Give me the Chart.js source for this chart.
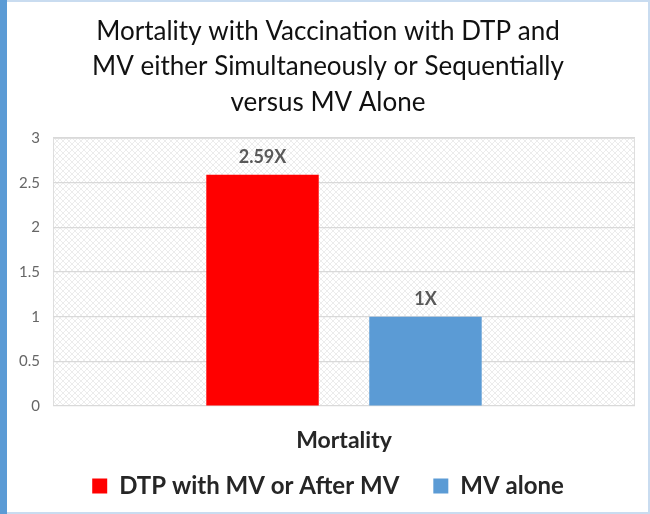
<!DOCTYPE html>
<html>
<head>
<meta charset="utf-8">
<script src="https://cdn.jsdelivr.net/npm/chart.js@4.4.0/dist/chart.umd.min.js"></script>
<style>
  html, body { margin: 0; padding: 0; background: #fff; }
  #wrap { width: 650px; height: 514px; }
</style>
</head>
<body>
<div id="wrap"><canvas id="mortality" width="650" height="514"></canvas></div>
<script>
// chart data
const categories = ['Mortality'];
const seriesNames = ['DTP with MV or After MV', 'MV alone'];
const dtpValues = [2.59];
const mvAloneValues = [1];
const yTicks = [0, 0.5, 1, 1.5, 2, 2.5, 3];

// light crosshatch used behind the bars
function makeHatch() {
    let c = document.createElement('canvas');
    c.width = 6;
    c.height = 6;
    let g = c.getContext('2d');
    g.fillStyle = '#ffffff';
    g.fillRect(0, 0, 6, 6);
    g.strokeStyle = 'rgba(200, 200, 200, 0.5)';
    g.lineWidth = 0.7;
    g.beginPath();
    g.moveTo(0, 0); g.lineTo(6, 6);
    g.moveTo(6, 0); g.lineTo(0, 6);
    g.stroke();
    return g.createPattern(c, 'repeat');
}

// frame of the slide and the hatched plot area
const backdrop = {
    id: 'backdrop',
    beforeDraw(chart) {
        let ctx = chart.ctx;
        let a = chart.chartArea;
        ctx.save();
        ctx.fillStyle = '#ffffff';
        ctx.fillRect(0, 0, chart.width, chart.height);
        ctx.strokeStyle = '#c9dcf0';
        ctx.lineWidth = 2;
        ctx.strokeRect(1, 1, chart.width - 2, chart.height - 2);
        ctx.fillStyle = '#5b9bd5';
        ctx.fillRect(0, 0, 7, chart.height);
        ctx.fillStyle = makeHatch();
        ctx.fillRect(a.left, a.top, a.right - a.left, a.bottom - a.top);
        ctx.strokeStyle = '#dedede';
        ctx.lineWidth = 1;
        ctx.strokeRect(a.left + 0.5, a.top + 0.5, a.right - a.left - 1, a.bottom - a.top - 1);
        ctx.restore();
    }
};

// value labels above the bars
const valueLabels = {
    id: 'valueLabels',
    afterDatasetsDraw(chart) {
        let ctx = chart.ctx;
        ctx.save();
        ctx.font = 'bold 18px Lato';
        ctx.fillStyle = '#595959';
        ctx.textAlign = 'center';
        ctx.textBaseline = 'middle';
        chart.data.datasets.forEach((ds, i) => {
            chart.getDatasetMeta(i).data.forEach((bar, j) => {
                ctx.fillText(ds.data[j] + 'X', bar.x, bar.y - 18);
            });
        });
        ctx.restore();
    }
};

let cntx = document.getElementById('mortality').getContext('2d');

let chart = new Chart(cntx, {
    type: 'bar',
    data: {
        labels: categories,
        datasets: [{
            label: seriesNames[0],
            backgroundColor: '#ff0000',
            data: dtpValues
        }, {
            label: seriesNames[1],
            backgroundColor: '#5b9bd5',
            data: mvAloneValues
        }]
    },
    options: {
        responsive: false,
        animation: false,
        categoryPercentage: 0.56,
        barPercentage: 0.69,
        layout: { padding: { top: 14, left: 14, right: 8, bottom: 6 } },
        plugins: {
            title: {
                display: true,
                text: [
                    'Mortality with Vaccination with DTP and',
                    'MV either Simultaneously or Sequentially',
                    'versus MV Alone'
                ],
                color: '#111111',
                font: { family: 'Lato', size: 26, weight: 'normal', lineHeight: 1.36 },
                padding: { top: 0, bottom: 18 }
            },
            legend: {
                position: 'bottom',
                labels: {
                    color: '#262626',
                    font: { family: 'Lato', size: 24, weight: 'bold' },
                    boxWidth: 15,
                    boxHeight: 15,
                    padding: 34
                }
            },
            tooltip: { enabled: false }
        },
        scales: {
            x: {
                grid: { display: false, drawTicks: false },
                border: { display: false },
                ticks: { display: false },
                // the single category name sits under the bars
                title: {
                    display: true,
                    text: categories[0],
                    color: '#262626',
                    font: { family: 'Lato', size: 23, weight: 'bold' },
                    padding: { top: 0, bottom: -14 }
                },
                afterFit(scale) { scale.height = 34; }
            },
            y: {
                min: 0,
                max: 3,
                afterBuildTicks(scale) { scale.ticks = yTicks.map(v => ({ value: v })); },
                grid: { color: '#d9d9d9', lineWidth: 1.2, drawTicks: false },
                border: { display: false },
                ticks: {
                    color: '#666666',
                    font: { family: 'Lato', size: 15 },
                    padding: 13,
                    callback: v => String(v)
                },
                afterFit(scale) { scale.width = 39; }
            },
            // empty strip on the right, keeps the plot off the frame
            yRight: {
                position: 'right',
                grid: { display: false, drawTicks: false },
                border: { display: false },
                ticks: { display: false },
                afterFit(scale) { scale.width = 7; }
            }
        }
    },
    plugins: [backdrop, valueLabels]
});
</script>
</body>
</html>
